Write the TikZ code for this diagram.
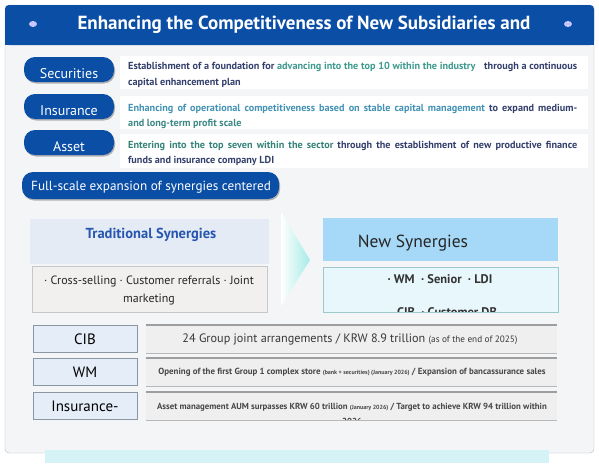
\documentclass[tikz,border=0pt]{standalone}
\usepackage{fontspec}
\setmainfont{PT Sans}
\usetikzlibrary{positioning}
\definecolor{hdrblue}{HTML}{0B4EA6}
\definecolor{framegray}{HTML}{B4BCC8}
\definecolor{bodybg}{HTML}{F3F5F7}
\definecolor{navytxt}{HTML}{34406C}
\definecolor{tealtxt}{HTML}{3D9A8E}
\definecolor{bluetealtxt}{HTML}{4392B4}
\definecolor{tradfill}{HTML}{E4EBF5}
\definecolor{tradtxt}{HTML}{2656B0}
\definecolor{mktfill}{HTML}{F1F0EF}
\definecolor{newfill}{HTML}{A6D9F7}
\definecolor{newlow}{HTML}{E7F7FB}
\definecolor{newborder}{HTML}{9CC9CC}
\definecolor{labfill}{HTML}{E5EEF8}
\definecolor{labborder}{HTML}{8A96A4}
\definecolor{barfill}{HTML}{EFEFEF}
\definecolor{chevcyan}{HTML}{A5EBE6}
\definecolor{stripcyan}{HTML}{D5F2F7}
\newcommand{\jline}[1]{\makebox[449pt][s]{#1}}
\begin{document}
\begin{tikzpicture}[x=1pt, y=-1pt,
	pill/.style={fill=hdrblue, rounded corners=11pt},
	pillshadow/.style={fill=black!30, rounded corners=11pt},
	pilltext/.style={text=white, font=\fontsize{14}{16}\selectfont, inner sep=0pt},
	bodyline/.style={anchor=base west, inner sep=0pt, text=navytxt, font=\fontsize{10.2}{12}\selectfont\bfseries},
	labelbox/.style={draw=labborder, fill=labfill},
	labeltext/.style={font=\fontsize{15}{17}\selectfont, inner sep=0pt},
	bartext/.style={inner sep=0pt, text=black!72}]
	\useasboundingbox (0,0) rectangle (599,463);
	\fill[white] (0,0) rectangle (599,463);
	% 1. Khung ngoai va thanh tieu de
	\draw[framegray, fill=bodybg, rounded corners=4pt] (5,5) rectangle (594,453);
	\fill[hdrblue, rounded corners=4pt] (5,5) rectangle (594,45);
	\fill[hdrblue] (5,25) rectangle (594,45);
	\fill[blue!22!white] (33,24) ellipse (4pt and 3pt);
	\fill[blue!22!white] (568,24) ellipse (4pt and 3pt);
	\node[text=white, font=\fontsize{19}{22}\selectfont\bfseries] (title) at (304,25) {Enhancing the Competitiveness of New Subsidiaries and};
	% 2. Nen trang cho cac dong mo ta
	\fill[white] (120,56) rectangle (588,89);
	\fill[white] (120,96) rectangle (588,129);
	\fill[white] (120,134) rectangle (588,168);
	% 3. Cac nhan hinh vien thuoc
	\foreach \name/\ytop/\txt in {sec/57/Securities, ins/94/Insurance, ast/130/Asset} {
		\fill[pillshadow] (25,\ytop+1.5) rectangle (115,\ytop+26.5);
		\fill[pill] (24,\ytop) rectangle (114,\ytop+25);
		\node[pilltext] (pill\name) at (69,\ytop+16.5) {\txt};
	}
	\fill[pillshadow] (23,173.5) rectangle (280,200.5);
	\fill[pill] (22,172) rectangle (279,199);
	\node[pilltext, anchor=west, font=\fontsize{13.2}{15}\selectfont] (pillsyn) at (31,187) {Full-scale expansion of synergies centered};
	% 4. Cac dong mo ta
	\node[bodyline] (secA) at (128,69) {\jline{Establishment of a foundation for \textcolor{tealtxt}{advancing into the top 10 within the industry}\hspace{6pt} through a continuous}};
	\node[bodyline] (secB) at (128,85) {capital enhancement plan};
	\node[bodyline] (insA) at (128,111) {\jline{\textcolor{bluetealtxt}{Enhancing of operational competitiveness based on stable capital management} to expand medium-}};
	\node[bodyline, text=tealtxt!80!navytxt] (insB) at (128,126) {and long-term profit scale};
	\node[bodyline] (astA) at (128,148) {\jline{\textcolor{tealtxt!85!black}{Entering into the top seven within the sector} through the establishment of new productive finance}};
	\node[bodyline] (astB) at (128,163) {funds and insurance company LDI};
	% 5. Hop hiep luc truyen thong
	\fill[tradfill] (30,219) rectangle (269,264);
	\node[text=tradtxt, font=\fontsize{14.5}{17}\selectfont\bfseries] (trad) at (151,235) {Traditional Synergies};
	\draw[black!22, fill=mktfill] (32,266) rectangle (267,312);
	\node[align=center, font=\fontsize{12}{18}\selectfont, text=black!85] (tradlist) at (149,290) {· Cross-selling · Customer referrals · Joint\\marketing};
	% 6. Mui ten chuyen tiep
	\shade[left color=white, right color=chevcyan] (281,212) -- (310,260) -- (281,306) -- cycle;
	% 7. Hop hiep luc moi
	\fill[newfill] (323,218) rectangle (558,261);
	\node[font=\fontsize{17.5}{20}\selectfont, text=black!85] (new) at (413,243) {New Synergies};
	\draw[newborder, fill=newlow] (323,267) rectangle (558,312);
	\node[font=\fontsize{12.5}{14}\selectfont\bfseries, text=black!80] (newlist) at (440,279) {· WM \ · Senior \ · LDI};
	\begin{scope}
		\clip (323,267) rectangle (558,311.5);
		\node[anchor=base, font=\fontsize{12.5}{14}\selectfont\bfseries, text=black!80] (newcut) at (447,316) {CIB \ · Customer DB};
	\end{scope}
	% 8. Cac hang ket qua
	\foreach \name/\ytop/\txt in {cib/325/CIB, wm/358/WM, insr/392/Insurance-} {
		\draw[labelbox] (33,\ytop) rectangle (137,\ytop+27);
		\node[labeltext] (lab\name) at (85,\ytop+14) {\txt};
		\fill[barfill] (146,\ytop) rectangle (557,\ytop+28);
		\draw[black!38, line width=1.2pt] (146,\ytop) -- (557,\ytop);
		\draw[black!28] (146,\ytop+28) -- (557,\ytop+28);
	}
	\node[bartext, text=black!78, font=\fontsize{12.2}{14}\selectfont] (barcib) at (350,339) {24 Group joint arrangements / KRW 8.9 trillion {\fontsize{9.2}{10}\selectfont(as of the end of 2025)}};
	\node[bartext, font=\fontsize{8.9}{10}\selectfont\bfseries] (barwm) at (352,372) {Opening of the first Group 1 complex store {\fontsize{6}{7}\selectfont(bank + securities) (January 2026)} / Expansion of bancassurance sales};
	\begin{scope}
		\clip (146,392) rectangle (557,419.5);
		\node[bartext, anchor=base, font=\fontsize{8.8}{10}\selectfont\bfseries] (barins) at (352,409) {Asset management AUM surpasses KRW 60 trillion {\fontsize{6}{7}\selectfont(January 2026)} / Target to achieve KRW 94 trillion within};
		\node[bartext, anchor=base, font=\fontsize{8.8}{10}\selectfont\bfseries] (barinsB) at (352,424) {2026};
	\end{scope}
	% 9. Dai mau xanh phia duoi
	\fill[stripcyan] (45,450) rectangle (549,463);
\end{tikzpicture}
\end{document}
